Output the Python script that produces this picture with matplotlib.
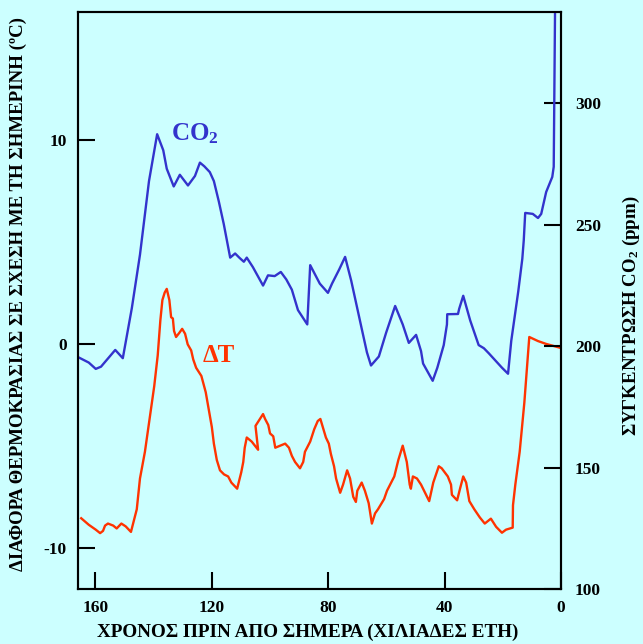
import matplotlib
matplotlib.use("Agg")
import matplotlib.pyplot as plt

# CO2 record (thousand years before present, ppm)
co2_age = [165.9, 162.3, 159.9, 158.1, 153.2, 150.6, 147.5, 144.7, 141.6, 138.8,
           136.7, 135.5, 133.1, 131.0, 128.2, 125.8, 124.1, 122.6, 120.7, 119.3,
           117.6, 115.9, 113.7, 112.0, 110.4, 109.0, 108.0, 105.9, 102.4, 100.7,
           98.4, 96.3, 94.4, 92.5, 90.4, 87.2, 86.2, 82.9, 80.1, 78.7,
           76.2, 74.2, 72.1, 68.5, 66.7, 65.3, 62.6, 60.1, 57.0, 54.4,
           52.3, 49.8, 48.1, 47.4, 44.1, 42.5, 40.3, 39.2, 39.1, 35.4,
           35.0, 33.6, 31.2, 28.3, 26.5, 24.8, 20.3, 18.2, 17.1, 14.7,
           13.3, 12.8, 12.3, 9.7, 7.9, 6.8, 5.1, 3.0, 2.5, 2.0]
co2_ppm = [195.4, 193.2, 190.6, 191.5, 198.4, 195.0, 215.6, 237.6, 267.9, 287.2,
           280.6, 273.0, 265.7, 270.5, 266.1, 270.0, 275.5, 274.0, 271.6, 267.9,
           259.5, 250.2, 236.4, 238.1, 236.2, 234.7, 236.4, 232.5, 224.9, 229.1,
           228.8, 230.5, 227.4, 223.2, 214.8, 208.9, 233.3, 225.7, 221.9, 225.7,
           231.6, 236.7, 226.9, 207.2, 197.4, 192.0, 195.7, 205.5, 216.5, 208.9,
           201.3, 204.6, 197.9, 192.8, 185.7, 191.1, 200.4, 208.9, 213.1, 213.2,
           215.3, 220.7, 210.5, 200.4, 199.1, 197.0, 191.1, 188.6, 202.1, 222.4,
           235.9, 243.5, 254.8, 254.4, 252.7, 254.4, 263.4, 269.6, 273.8, 345.0]

# temperature difference from today (deg C)
dt_age = [164.9, 162.3, 159.9, 158.4, 157.4, 156.7, 155.7, 153.9, 152.7, 151.1,
          149.6, 147.8, 145.8, 144.7, 143.0, 141.6, 139.8, 138.6, 137.7, 137.0,
          136.2, 135.5, 134.6, 134.0, 133.4, 133.0, 132.3, 131.2, 130.2, 129.2,
          128.3, 127.1, 126.4, 125.4, 123.6, 122.1, 121.0, 120.0, 119.3, 118.3,
          117.2, 115.8, 114.4, 113.3, 111.3, 109.9, 109.2, 108.7, 108.0, 106.3,
          105.2, 104.1, 105.0, 103.5, 102.4, 101.7, 100.6, 100.0, 98.9, 98.2,
          96.5, 94.8, 93.5, 92.5, 91.4, 89.7, 88.6, 88.0, 86.2, 84.8,
          83.6, 82.7, 80.8, 79.8, 79.1, 78.0, 77.3, 75.9, 74.9, 73.5,
          72.5, 71.4, 70.5, 70.0, 68.5, 67.4, 66.1, 65.0, 63.9, 62.9,
          60.8, 59.8, 57.3, 55.9, 54.4, 53.0, 52.0, 51.6, 50.9, 49.5,
          48.1, 45.3, 43.9, 42.0, 41.0, 38.9, 37.8, 37.5, 35.7, 34.7,
          33.6, 32.6, 31.5, 29.8, 27.9, 26.2, 24.1, 23.0, 22.3, 20.3,
          18.9, 16.6, 16.5, 15.7, 14.2, 12.6, 10.9, 7.9, 5.1, 0.0]
dt_val = [-8.53, -8.85, -9.09, -9.26, -9.15, -8.89, -8.79, -8.89, -9.03, -8.79,
          -8.93, -9.20, -8.09, -6.58, -5.27, -3.86, -2.05, -0.54, 1.17, 2.17,
          2.54, 2.72, 2.17, 1.33, 1.27, 0.66, 0.36, 0.56, 0.76, 0.52,
          0.00, -0.30, -0.74, -1.15, -1.55, -2.35, -3.26, -4.06, -4.87, -5.67,
          -6.18, -6.38, -6.48, -6.78, -7.08, -6.28, -5.77, -5.07, -4.57, -4.77,
          -4.97, -5.17, -4.00, -3.66, -3.42, -3.66, -3.96, -4.37, -4.51, -5.07,
          -4.97, -4.87, -5.07, -5.47, -5.77, -6.08, -5.77, -5.27, -4.77, -4.16,
          -3.76, -3.66, -4.57, -4.87, -5.37, -5.98, -6.58, -7.28, -6.88, -6.18,
          -6.58, -7.48, -7.73, -7.18, -6.78, -7.18, -7.79, -8.79, -8.29, -8.09,
          -7.59, -7.18, -6.48, -5.67, -4.97, -5.77, -6.88, -7.08, -6.48, -6.58,
          -6.88, -7.69, -6.78, -5.98, -6.08, -6.48, -6.88, -7.38, -7.65, -7.08,
          -6.48, -6.78, -7.69, -8.09, -8.49, -8.79, -8.55, -8.79, -8.95, -9.24,
          -9.09, -8.99, -7.89, -6.88, -5.27, -2.86, 0.36, 0.16, 0.02, -0.18]

x_ticks = [160, 120, 80, 40, 0]
t_ticks = [-10, 0, 10]
co2_ticks = [100, 150, 200, 250, 300]

bg = "#ccffff"
blue = "#3333cc"
red = "#ff3300"

plt.rcParams['font.family'] = ['Liberation Serif', 'DejaVu Serif']
plt.rcParams['font.weight'] = 'bold'
plt.rcParams['axes.unicode_minus'] = False
plt.rcParams['mathtext.fontset'] = 'custom'
plt.rcParams['mathtext.rm'] = 'Liberation Serif:bold'
plt.rcParams['mathtext.it'] = 'Liberation Serif:bold'
plt.rcParams['mathtext.bf'] = 'Liberation Serif:bold'

fig = plt.figure(figsize=(6.43, 6.44), dpi=100, facecolor=bg)
ax = fig.add_axes([78 / 643, 55 / 644, 483 / 643, 577 / 644], facecolor=bg)
ax2 = ax.twinx()

ax.plot(dt_age, dt_val, color=red, lw=1.7)
ax2.plot(co2_age, co2_ppm, color=blue, lw=1.7)

ax.set_xlim(166, 0)
ax.set_ylim(-12, 16.3)
ax2.set_ylim(100, 337.5)

ax.set_xticks(x_ticks)
ax.set_yticks(t_ticks)
ax2.set_yticks(co2_ticks)

for a in (ax, ax2):
    for s in a.spines.values():
        s.set_linewidth(1.5)
ax.tick_params(axis='both', direction='in', length=12, width=1.5, labelsize=12.5, pad=8)
ax2.tick_params(axis='y', direction='in', length=12, width=1.5, labelsize=12.5, pad=10)

ax.set_xlabel("ΧΡΟΝΟΣ ΠΡΙΝ ΑΠΟ ΣΗΜΕΡΑ (ΧΙΛΙΑΔΕΣ ΕΤΗ)", fontsize=13.8, fontweight='bold')
ax.xaxis.set_label_coords(0.476, -0.06)
ax.set_ylabel("ΔΙΑΦΟΡΑ ΘΕΡΜΟΚΡΑΣΙΑΣ ΣΕ ΣΧΕΣΗ ΜΕ ΤΗ ΣΗΜΕΡΙΝΗ (ºC)", fontsize=13.6, fontweight='bold')
ax.yaxis.set_label_coords(-0.106, 0.511)
ax2.set_ylabel("ΣΥΓΚΕΝΤΡΩΣΗ CO$_2$ (ppm)", fontsize=13.6, fontweight='bold')
ax2.yaxis.set_label_coords(1.125, 0.473)

ax.text(134.2, 10.0, "CO$_2$", color=blue, fontsize=18, fontweight='bold', ha='left', va='baseline')
ax.text(123.2, -0.86, "ΔT", color=red, fontsize=18, fontweight='bold', ha='left', va='baseline')

fig.savefig("out.png", dpi=100, facecolor=bg)
